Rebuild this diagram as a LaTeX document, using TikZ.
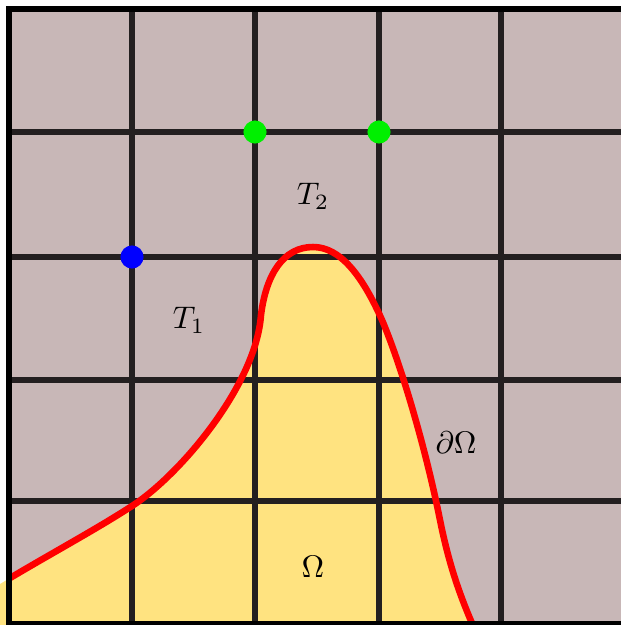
\documentclass[tikz,border=0pt]{standalone}
\definecolor{bgc}{RGB}{200,183,183}
\definecolor{yel}{RGB}{255,227,128}
\definecolor{gridc}{RGB}{35,31,32}
\definecolor{redc}{RGB}{255,0,0}
\definecolor{greenc}{RGB}{0,240,0}
\definecolor{bluec}{RGB}{0,0,255}
\begin{document}
\begin{tikzpicture}[x=0.32pt,y=-0.32pt,
  gridline/.style={line width=1.9pt, draw=gridc},
  border/.style={line width=1.9pt, draw=black},
  boundary/.style={line width=2.1pt, draw=redc},
  dot/.style={circle, inner sep=0pt, minimum size=7.4pt},
  lbl/.style={inner sep=0pt}]
\useasboundingbox (0,0) rectangle (621,625);
\clip (0,0) rectangle (621,625);
\fill[bgc] (9,9) rectangle (624,624);
\def\curve{(0,584) .. controls (50,554) and (95,530) .. (132,506)
  .. controls (180,475) and (256,385) .. (261,315)
  .. controls (266,275) and (283,247) .. (313,247)
  .. controls (340,247) and (362,275) .. (382,320)
  .. controls (400,362) and (425,445) .. (440,520)
  .. controls (452,580) and (468,615) .. (484,650)}
\fill[yel] \curve -- (0,650) -- cycle;
\foreach \x in {132,255,379,501} \draw[gridline] (\x,9) -- (\x,624);
\foreach \y in {132,257,380,501} \draw[gridline] (9,\y) -- (624,\y);
\begin{scope}
\clip (9,9) rectangle (640,640);
\draw[boundary] \curve;
\end{scope}
\draw[border] (9,9) rectangle (624,624);
\node[dot, fill=greenc] (g1) at (255,132) {};
\node[dot, fill=greenc] (g2) at (379,132) {};
\node[dot, fill=bluec] (b1) at (132,257) {};
\node[lbl] (t2) at (313,196) {$T_2$};
\node[lbl] (t1) at (189,320) {$T_1$};
\node[lbl] (bd) at (456,443) {$\partial\Omega$};
\node[lbl] (om) at (313,567) {$\Omega$};
\end{tikzpicture}
\end{document}
